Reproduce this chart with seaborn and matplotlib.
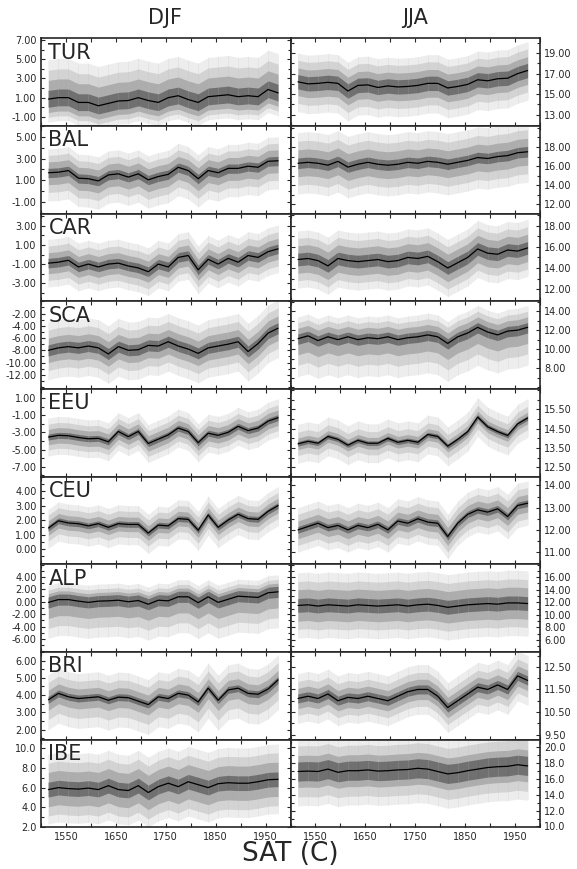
import numpy as np
import matplotlib
matplotlib.use('Agg')
import matplotlib.pyplot as plt
from matplotlib.ticker import AutoMinorLocator, FormatStrFormatter
import seaborn as sns

# sample years (every 20 years)
years = [1515, 1535, 1555, 1575, 1595, 1615, 1635, 1655, 1675, 1695, 1715, 1735,
         1755, 1775, 1795, 1815, 1835, 1855, 1875, 1895, 1915, 1935, 1955, 1975]
regions = ['TUR', 'BAL', 'CAR', 'SCA', 'EEU', 'CEU', 'ALP', 'BRI', 'IBE']

# DJF medians
djf_tur = [0.85, 1.0, 1.0, 0.5, 0.5, 0.15, 0.4, 0.65, 0.7, 1.0, 0.7, 0.5,
           1.0, 1.2, 0.8, 0.5, 1.1, 1.2, 1.3, 1.1, 1.2, 1.1, 1.85, 1.5]
djf_bal = [1.7, 1.75, 1.9, 1.2, 1.15, 0.95, 1.5, 1.6, 1.3, 1.6, 1.05, 1.35,
           1.55, 2.2, 1.9, 1.15, 1.9, 1.7, 2.1, 2.1, 2.3, 2.2, 2.75, 2.8]
djf_car = [-0.9, -0.8, -0.6, -1.3, -1.0, -1.3, -1.0, -0.9, -1.2, -1.4, -1.8, -1.0,
           -1.3, -0.3, -0.1, -1.6, -0.5, -1.0, -0.4, -0.8, -0.1, -0.3, 0.3, 0.6]
djf_sca = [-8.0, -7.6, -7.4, -7.6, -7.3, -7.6, -8.6, -7.4, -8.0, -7.9, -7.2, -7.3,
           -6.6, -7.3, -7.8, -8.5, -7.6, -7.3, -7.0, -6.6, -8.2, -6.9, -5.2, -4.4]
djf_eeu = [-3.55, -3.35, -3.4, -3.6, -3.75, -3.7, -4.1, -2.9, -3.5, -2.9, -4.3, -3.8,
           -3.3, -2.5, -2.9, -4.2, -3.1, -3.35, -3.0, -2.3, -2.8, -2.5, -1.7, -1.3]
djf_ceu = [1.45, 1.95, 1.8, 1.75, 1.6, 1.75, 1.5, 1.75, 1.7, 1.7, 1.1, 1.65,
           1.6, 2.1, 2.05, 1.3, 2.35, 1.5, 2.0, 2.4, 2.1, 2.05, 2.6, 3.0]
djf_alp = [-0.1, 0.35, 0.35, 0.1, -0.1, 0.1, 0.15, 0.25, 0.0, 0.2, -0.4, 0.25,
           0.15, 0.8, 0.8, -0.15, 0.8, -0.1, 0.4, 0.9, 0.8, 0.7, 1.45, 1.6]
djf_bri = [3.73, 4.1, 3.9, 3.8, 3.85, 3.9, 3.7, 3.88, 3.85, 3.65, 3.45, 3.9,
           3.8, 4.1, 4.0, 3.6, 4.4, 3.7, 4.3, 4.4, 4.1, 4.05, 4.35, 4.88]
djf_ibe = [5.8, 6.0, 5.9, 5.85, 5.95, 5.8, 6.2, 5.8, 5.7, 6.2, 5.5, 6.1,
           6.45, 6.1, 6.6, 6.3, 6.0, 6.4, 6.5, 6.45, 6.45, 6.6, 6.8, 6.85]

# JJA medians
jja_tur = [16.2, 16.0, 16.05, 16.15, 16.05, 15.3, 15.85, 15.9, 15.65, 15.8, 15.7, 15.75,
           15.85, 16.05, 16.05, 15.6, 15.75, 15.95, 16.4, 16.3, 16.5, 16.55, 17.0, 17.3]
jja_bal = [16.3, 16.4, 16.3, 16.1, 16.5, 15.9, 16.2, 16.4, 16.2, 16.1, 16.2, 16.4,
           16.3, 16.5, 16.4, 16.2, 16.4, 16.6, 16.9, 16.8, 17.0, 17.1, 17.4, 17.5]
jja_car = [14.8, 14.9, 14.7, 14.2, 14.9, 14.7, 14.6, 14.7, 14.8, 14.6, 14.7, 15.0,
           14.9, 15.1, 14.6, 14.0, 14.5, 15.0, 15.8, 15.4, 15.3, 15.7, 15.6, 15.9]
jja_sca = [11.1, 11.4, 10.9, 11.3, 11.0, 11.3, 11.0, 11.2, 11.1, 11.3, 11.0, 11.2,
           11.3, 11.5, 11.3, 10.6, 11.3, 11.7, 12.3, 11.8, 11.5, 11.9, 12.0, 12.3]
jja_eeu = [13.72, 13.85, 13.75, 14.1, 13.95, 13.65, 13.9, 13.75, 13.75, 14.0, 13.8, 13.9,
           13.8, 14.2, 14.1, 13.6, 13.95, 14.35, 15.1, 14.6, 14.35, 14.15, 14.75, 15.05]
jja_ceu = [12.0, 12.15, 12.3, 12.1, 12.2, 12.0, 12.2, 12.1, 12.25, 12.0, 12.4, 12.3,
           12.5, 12.35, 12.3, 11.7, 12.3, 12.7, 12.9, 12.8, 12.95, 12.6, 13.1, 13.2]
jja_alp = [11.5, 11.6, 11.4, 11.6, 11.5, 11.4, 11.6, 11.5, 11.4, 11.5, 11.6, 11.4,
           11.6, 11.7, 11.5, 11.2, 11.4, 11.6, 11.7, 11.8, 11.7, 11.9, 11.9, 11.8]
jja_bri = [11.1, 11.2, 11.1, 11.3, 11.0, 11.15, 11.1, 11.2, 11.1, 11.0, 11.2, 11.4,
           11.5, 11.5, 11.2, 10.7, 11.0, 11.3, 11.6, 11.5, 11.7, 11.5, 12.1, 11.9]
jja_ibe = [16.9, 16.95, 16.9, 17.2, 16.8, 17.0, 17.0, 17.1, 16.95, 17.0, 17.1, 17.15,
           17.3, 17.2, 16.9, 16.6, 16.75, 17.0, 17.2, 17.4, 17.5, 17.55, 17.75, 17.6]

# band half-widths above / below the median (inner -> outer)
djf_up = [[0.9, 1.95, 3.0, 4.1], [0.4, 1.0, 1.6, 2.2], [0.5, 1.1, 1.8, 2.5], [0.9, 2.0, 3.3, 4.6],
          [0.35, 0.9, 1.5, 2.2], [0.2, 0.5, 0.9, 1.3], [0.9, 1.4, 2.0, 2.75], [0.2, 0.55, 1.0, 1.45],
          [0.75, 1.75, 2.7, 3.6]]
djf_lo = [[0.85, 1.4, 1.9, 2.4], [0.45, 1.1, 1.8, 2.6], [0.5, 1.1, 1.8, 2.5], [0.9, 2.0, 3.3, 4.8],
          [0.35, 0.9, 1.5, 2.2], [0.2, 0.5, 0.9, 1.4], [0.9, 2.6, 4.2, 5.8], [0.2, 0.6, 1.15, 1.73],
          [0.75, 1.75, 2.7, 3.5]]
jja_up = [[0.7, 1.35, 2.1, 2.8], [0.55, 1.4, 2.3, 3.2], [0.6, 1.3, 2.0, 2.7], [0.5, 1.1, 1.7, 2.3],
          [0.12, 0.3, 0.6, 1.0], [0.15, 0.4, 0.7, 1.0], [1.1, 2.5, 3.8, 5.2], [0.2, 0.45, 0.75, 1.1],
          [1.2, 2.0, 3.2, 4.3]]
jja_lo = [[0.7, 1.35, 2.1, 2.9], [0.55, 1.4, 2.3, 3.2], [0.6, 1.3, 2.0, 2.7], [0.6, 1.7, 2.8, 4.0],
          [0.12, 0.3, 0.6, 1.0], [0.15, 0.4, 0.7, 1.0], [1.1, 2.5, 3.8, 5.2], [0.2, 0.45, 0.75, 1.1],
          [1.2, 2.0, 3.2, 4.3]]

djf_lims = [(-1.95, 7.2), (-2.05, 6.0), (-4.9, 4.3), (-14.3, 0.0), (-8.15, 2.05),
            (-1.05, 5.0), (-8.1, 6.05), (1.42, 6.5), (1.95, 10.9)]
djf_ticks = [[-1, 1, 3, 5, 7], [-1, 1, 3, 5], [-3, -1, 1, 3], [-12, -10, -8, -6, -4, -2],
             [-7, -5, -3, -1, 1], [0, 1, 2, 3, 4], [-6, -4, -2, 0, 2, 4], [2, 3, 4, 5, 6],
             [2, 4, 6, 8, 10]]
jja_lims = [(11.9, 20.45), (11.05, 20.2), (10.85, 19.15), (5.8, 15.05), (12.03, 16.55),
            (10.45, 14.4), (4.1, 18.05), (9.28, 13.16), (9.9, 20.9)]
jja_ticks = [[13, 15, 17, 19], [12, 14, 16, 18], [12, 14, 16, 18], [8, 10, 12, 14],
             [12.5, 13.5, 14.5, 15.5], [11, 12, 13, 14], [6, 8, 10, 12, 14, 16],
             [9.5, 10.5, 11.5, 12.5], [10, 12, 14, 16, 18, 20]]

djf_meds = [djf_tur, djf_bal, djf_car, djf_sca, djf_eeu, djf_ceu, djf_alp, djf_bri, djf_ibe]
jja_meds = [jja_tur, jja_bal, jja_car, jja_sca, jja_eeu, jja_ceu, jja_alp, jja_bri, jja_ibe]

band_colors = ['#707070', '#adadad', '#d3d3d3', '#ededed']  # inner -> outer

sns.set_style('ticks')
plt.rcParams['font.family'] = ['DejaVu Sans']

fig, axes = plt.subplots(9, 2, figsize=(5.77, 8.69), dpi=100, sharex=True)
fig.subplots_adjust(left=0.071, right=0.936, top=0.956, bottom=0.048, wspace=0, hspace=0)

x = np.array(years)
for col, (meds, ups, los, lims, ticks) in enumerate([
        (djf_meds, djf_up, djf_lo, djf_lims, djf_ticks),
        (jja_meds, jja_up, jja_lo, jja_lims, jja_ticks)]):
    for row in range(9):
        ax = axes[row, col]
        med = np.array(meds[row])
        # outer bands first
        for k in range(3, -1, -1):
            ax.fill_between(x, med - los[row][k], med + ups[row][k],
                            color=band_colors[k], lw=0)
        # faint vertical spread marks
        ax.vlines(x, med - los[row][3], med + ups[row][3], color='#bbbbbb',
                  lw=0.4, alpha=0.3)
        ax.vlines(x[::3], (med - los[row][0])[::3], (med + ups[row][0])[::3],
                  color='#333333', lw=0.5, alpha=0.35)
        sns.lineplot(x=x, y=med, ax=ax, color='black', lw=0.9)
        ax.set_xlim(1500, 2000)
        ax.set_ylim(*lims[row])
        ax.set_yticks(ticks[row])
        fmt = '%.1f' if row == 8 else '%.2f'
        ax.yaxis.set_major_formatter(FormatStrFormatter(fmt))
        ax.yaxis.set_minor_locator(AutoMinorLocator(2))
        ax.set_xticks(range(1500, 2001, 50))
        ax.set_xticklabels([str(y) if (y - 1550) % 100 == 0 else '' for y in range(1500, 2001, 50)])
        ax.tick_params(which='both', direction='in', top=True, bottom=True,
                       left=True, right=True, labelsize=7, length=3, width=0.8)
        ax.tick_params(which='minor', length=2)
        if col == 0:
            ax.tick_params(labelleft=True, labelright=False)
            ax.text(0.03, 0.95, regions[row], transform=ax.transAxes, fontsize=15,
                    va='top', ha='left')
        else:
            ax.tick_params(labelleft=False, labelright=True)
        ax.tick_params(axis='y', pad=3)
        for sp in ax.spines.values():
            sp.set_linewidth(1.2)
        ax.set_xlabel('')
        ax.set_ylabel('')

fig.text(0.286, 0.979, 'DJF', fontsize=15, ha='center', va='center')
fig.text(0.719, 0.979, 'JJA', fontsize=15, ha='center', va='center')
fig.text(0.503, 0.017, 'SAT (C)', fontsize=19, ha='center', va='center')

plt.savefig('out.png', dpi=100)
